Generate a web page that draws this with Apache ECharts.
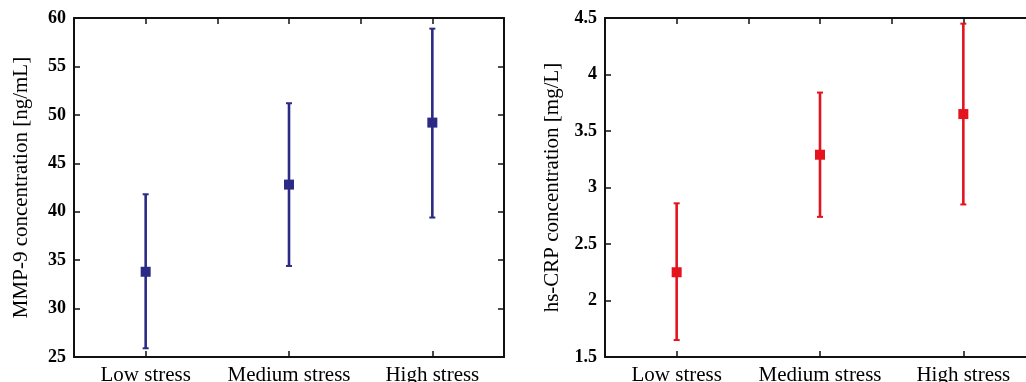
<!DOCTYPE html>
<html>
<head>
<meta charset="utf-8">
<script src="https://cdn.jsdelivr.net/npm/echarts@6/dist/echarts.min.js"></script>
<style>html,body{margin:0;padding:0;background:#fff;}#c{width:1026px;height:382px;}</style>
</head>
<body>
<div id="c"></div>
<script>
const categories = ['Low stress', 'Medium stress', 'High stress'];
const mmpMean = [33.8, 42.8, 49.2];
const mmpLow = [25.9, 34.4, 39.4];
const mmpHigh = [41.8, 51.2, 58.9];
const crpMean = [2.25, 3.29, 3.65];
const crpLow = [1.65, 2.74, 2.85];
const crpHigh = [2.86, 3.84, 4.45];
const mmpTitle = 'MMP-9 concentration [ng/mL]';
const crpTitle = 'hs-CRP concentration [mg/L]';

const blue = '#2b2a84';
const red = '#e5131d';
const serif = '"Liberation Serif", "DejaVu Serif", serif';

function errData(lo, hi) { return lo.map((v, i) => [i, v, hi[i]]); }
function meanData(m) { return m.map((v, i) => [i, v]); }

function errRender(color) {
  return function (params, api) {
    const x = api.value(0);
    const lo = api.coord([x, api.value(1)]);
    const hi = api.coord([x, api.value(2)]);
    const cap = 3;
    const st = { stroke: color, lineWidth: 2.6 };
    return {
      type: 'group',
      children: [
        { type: 'line', shape: { x1: lo[0], y1: lo[1], x2: hi[0], y2: hi[1] }, style: st },
        { type: 'line', shape: { x1: lo[0] - cap, y1: lo[1], x2: lo[0] + cap, y2: lo[1] }, style: { stroke: color, lineWidth: 2 } },
        { type: 'line', shape: { x1: hi[0] - cap, y1: hi[1], x2: hi[0] + cap, y2: hi[1] }, style: { stroke: color, lineWidth: 2 } }
      ]
    };
  };
}

const lineStyle = { color: '#111', width: 2 };
const tickStyle = { color: '#111', width: 1.5 };

function xAxes(gi) {
  return [
    {
      gridIndex: gi, type: 'category', data: categories, position: 'bottom',
      boundaryGap: true,
      axisLine: { show: true, onZero: false, lineStyle: lineStyle },
      axisTick: { show: true, inside: true, alignWithLabel: true, interval: 0, length: 6, lineStyle: tickStyle },
      axisLabel: { color: '#000', fontFamily: serif, fontSize: 21, margin: 8, interval: 0, hideOverlap: false },
      splitLine: { show: false }
    },
    {
      gridIndex: gi, type: 'value', position: 'top', min: 0.5, max: 3.5, interval: 0.5,
      axisLine: { show: true, onZero: false, lineStyle: lineStyle },
      axisTick: { show: true, inside: true, length: 6, lineStyle: tickStyle },
      axisLabel: { show: false },
      splitLine: { show: false }
    }
  ];
}

function yAxes(gi, min, max, interval, name) {
  return [
    {
      gridIndex: gi, type: 'value', position: 'left', min: min, max: max, interval: interval,
      name: name, nameLocation: 'middle', nameGap: 42,
      nameTextStyle: { color: '#000', fontFamily: serif, fontSize: 21 },
      axisLine: { show: true, onZero: false, lineStyle: lineStyle },
      axisTick: { show: true, inside: true, length: 6, lineStyle: tickStyle },
      axisLabel: { color: '#000', fontFamily: serif, fontSize: 18, fontWeight: 'bold', margin: 8 },
      splitLine: { show: false }
    },
    {
      gridIndex: gi, type: 'value', position: 'right', min: min, max: max, interval: interval,
      axisLine: { show: true, onZero: false, lineStyle: lineStyle },
      axisTick: { show: true, inside: true, length: 6, lineStyle: tickStyle },
      axisLabel: { show: false },
      splitLine: { show: false }
    }
  ];
}

const chart = echarts.init(document.getElementById('c'));
chart.setOption({
  animation: false,
  backgroundColor: '#fff',
  grid: [
    { left: 74, width: 430, top: 18, bottom: 25, outerBoundsMode: 'none', containLabel: false },
    { left: 605, width: 430, top: 18, bottom: 25, outerBoundsMode: 'none', containLabel: false }
  ],
  xAxis: [...xAxes(0), ...xAxes(1)],
  yAxis: [...yAxes(0, 25, 60, 5, mmpTitle), ...yAxes(1, 1.5, 4.5, 0.5, crpTitle)],
  series: [
    { type: 'custom', xAxisIndex: 0, yAxisIndex: 0, renderItem: errRender(blue), data: errData(mmpLow, mmpHigh), z: 2 },
    { type: 'scatter', xAxisIndex: 0, yAxisIndex: 0, symbol: 'rect', symbolSize: 10, itemStyle: { color: blue, opacity: 1 }, data: meanData(mmpMean), z: 3 },
    { type: 'custom', xAxisIndex: 2, yAxisIndex: 2, renderItem: errRender(red), data: errData(crpLow, crpHigh), z: 2 },
    { type: 'scatter', xAxisIndex: 2, yAxisIndex: 2, symbol: 'rect', symbolSize: 10, itemStyle: { color: red, opacity: 1 }, data: meanData(crpMean), z: 3 }
  ]
});
</script>
</body>
</html>
